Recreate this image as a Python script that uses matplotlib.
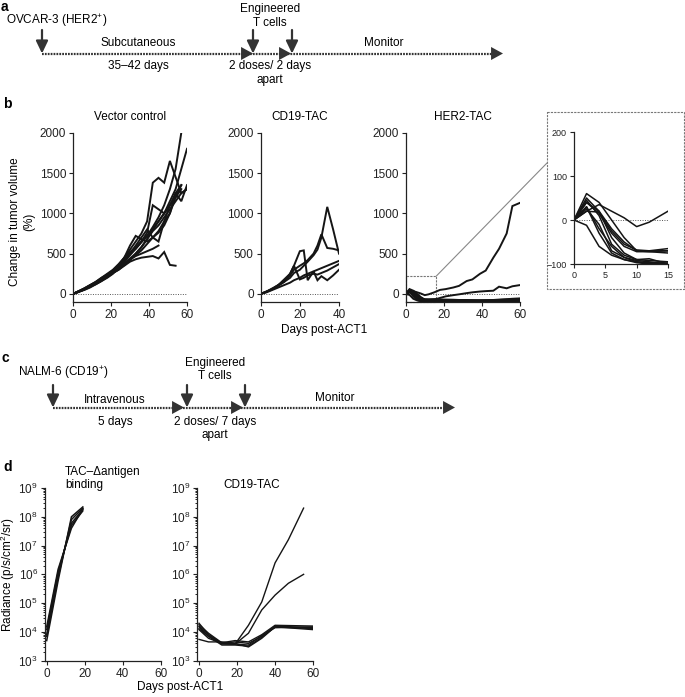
import matplotlib
matplotlib.use("Agg")
import matplotlib.pyplot as plt
from matplotlib.patches import Rectangle, ConnectionPatch

plt.rcParams["font.family"] = ["Liberation Sans", "DejaVu Sans"]
plt.rcParams["mathtext.fontset"] = "custom"
plt.rcParams["mathtext.rm"] = "Liberation Sans"
plt.rcParams["mathtext.it"] = "Liberation Sans:italic"
plt.rcParams["mathtext.bf"] = "Liberation Sans:bold"

# ---- panel b: change in tumour volume (%) ----
vc_days = [0, 3, 6, 9, 12, 15, 18, 21, 24, 27, 30, 33, 36, 39, 42, 45, 48, 51, 54, 57, 60]
vc_curves = [
    [0, 35, 70, 110, 150, 200, 240, 290, 350, 430, 500, 560, 640, 720, 830, 950, 1100, 1300, 1550, 2000],
    [0, 30, 60, 100, 140, 180, 230, 270, 320, 380, 440, 500, 580, 680, 800, 900, 1000, 1150, 1300, 1550, 1800],
    [0, 30, 60, 95, 130, 170, 230, 290, 360, 450, 550, 650, 750, 900, 1380, 1440, 1380, 1650, 1450, 1250, 1300],
    [0, 30, 55, 90, 120, 160, 200, 250, 330, 450, 600, 720, 680, 650, 700, 780, 900, 1100, 1200, 1350],
    [0, 25, 50, 80, 120, 160, 210, 260, 300, 350, 400, 430, 450, 460, 470, 440, 520, 360, 350],
    [0, 30, 65, 105, 140, 180, 240, 280, 330, 380, 430, 470, 500, 530, 560, 600],
    [0, 30, 60, 100, 140, 190, 230, 280, 330, 400, 480, 560, 650, 760, 1100, 1050, 1000, 1100, 1200, 1300],
    [0, 35, 70, 110, 150, 200, 250, 300, 370, 450, 520, 580, 650, 720, 800, 900, 1000, 1100, 1250, 1350],
    [0, 30, 55, 90, 130, 170, 210, 260, 300, 360, 420, 500, 580, 680, 780, 850, 950, 1050, 1150, 1250, 1300],
    [0, 30, 60, 100, 140, 180, 220, 260, 310, 360, 420, 480, 540, 620, 700, 760, 850, 1000, 1250, 1150, 1350],
    [0, 25, 55, 90, 130, 170, 220, 280, 340, 420, 500, 600, 700, 800, 700, 650, 900, 1000, 1200],
]

cd19_days = [0, 3, 6, 9, 12, 15, 17, 20, 22, 24, 27, 29, 31, 34, 37, 40]
cd19_curves = [
    [0, 30, 60, 100, 150, 200, 260, 300, 350, 400, 480, 550, 700, 1080, 800, 500],
    [0, 25, 60, 110, 160, 230, 300, 350, 380, 420, 500, 600, 740, 570, 560, 540],
    [0, 30, 70, 110, 150, 250, 350, 530, 540, 170, 280, 170, 220, 170, 230, 300],
    [0, 20, 50, 80, 110, 140, 170, 200, 230, 250, 280, 300, 320, 350, 380, 410],
    [0, 30, 60, 110, 180, 250, 350, 180, 200, 230, 250, 240, 260, 290, 330, 370],
]

her2_days = [0, 2, 4, 6, 8, 10, 12, 15, 18, 21, 25, 28, 32, 35, 39, 42, 46, 49, 53, 56, 60]
her2_curves = [
    [0, 20, 35, 20, 5, -15, -5, 20, 50, 60, 80, 100, 160, 180, 250, 290, 450, 560, 750, 1090, 1130],
    [0, 40, 20, -20, -50, -70, -70, -70, -50, -30, -15, -5, 10, 20, 30, 35, 40, 90, 70, 95, 110],
    [0, 60, 40, 0, -40, -70, -72, -70, -75, -78, -80, -80, -82, -82, -80, -78, -75, -70, -65, -60, -55],
    [0, 40, 15, -30, -60, -72, -72, -75, -80, -85, -85, -88, -88, -85, -85, -82, -80, -75, -70, -68, -65],
    [0, 30, -20, -60, -85, -92, -95, -100, -100, -99, -98, -98, -100, -99, -100, -98, -95, -95, -90, -90, -88],
    [0, -12, -60, -80, -90, -95, -99, -100, -100, -100, -99, -100, -100, -100, -99, -100, -100, -98, -100, -99, -100],
    [0, 25, -10, -70, -85, -95, -97, -98, -98, -97, -95, -95, -96, -95, -95, -93, -92, -92, -90, -91, -90],
    [0, 45, 10, -55, -80, -90, -92, -95, -95, -96, -97, -97, -97, -95, -95, -95, -94, -93, -93, -92, -92],
    [0, 20, 18, -25, -55, -68, -70, -65, -68, -70, -72, -75, -75, -76, -78, -78, -78, -75, -75, -72, -70],
    [0, 30, -30, -75, -90, -97, -100, -98, -99, -100, -98, -97, -99, -100, -98, -97, -96, -95, -95, -94, -94],
    [0, 50, 20, -40, -75, -90, -88, -100, -96, -95, -94, -96, -95, -93, -92, -93, -90, -90, -88, -87, -85],
]

# ---- panel d: radiance (p/s/cm2/sr) ----
dant_days = [0, 6, 13, 19]
dant_curves = [
    [5e3, 6e5, 1.0e8, 2.2e8],
    [8e3, 1e6, 6e7, 1.8e8],
    [1.2e4, 1.2e6, 5e7, 1.6e8],
    [7e3, 8e5, 8e7, 2.0e8],
    [1.5e4, 1.5e6, 4e7, 1.9e8],
]
cd19d_days_flat = [0, 5, 12, 19, 26, 33, 40, 60]
cd19d_flat = [
    [2.0e4, 8e3, 4.0e3, 4.5e3, 4.0e3, 7e3, 1.6e4, 1.4e4],
    [1.5e4, 7e3, 3.5e3, 3.5e3, 3.2e3, 6.5e3, 1.5e4, 1.2e4],
    [1.2e4, 6e3, 4e3, 3.8e3, 3.5e3, 7.5e3, 1.4e4, 1.5e4],
    [5.5e3, 4.5e3, 4.5e3, 4.0e3, 3.0e3, 6e3, 1.5e4, 1.3e4],
    [1.8e4, 9e3, 4.2e3, 5e3, 4.5e3, 8e3, 1.7e4, 1.6e4],
]
cd19d_days_rise = [0, 5, 12, 19, 26, 33, 40, 47, 55]
cd19d_rise = [
    [1.6e4, 8e3, 3.8e3, 3.8e3, 1.7e4, 1.1e5, 2.5e6, 1.6e7, 2.0e8],
    [1.3e4, 7e3, 4e3, 3.8e3, 9e3, 5.8e4, 1.9e5, 4.9e5, 1.0e6],
]

W, H = 685, 697
DARK = "#333333"
LINE = "#151515"
FS = 8.5


def px_rect(left, top, right, bottom):
    return [left / W, 1 - bottom / H, (right - left) / W, (bottom - top) / H]


def style(ax, size=FS):
    for s in ("top", "right"):
        ax.spines[s].set_visible(False)
    for s in ("left", "bottom"):
        ax.spines[s].set_linewidth(0.9)
        ax.spines[s].set_color("#222222")
    ax.tick_params(labelsize=size, length=3, width=0.8, pad=2, colors="#222222")
    ax.tick_params(which="minor", length=1.8, width=0.6)


def down_arrow(ov, x, y_top, y_tip):
    ov.annotate("", xy=(x, y_tip), xytext=(x, y_top),
                arrowprops=dict(arrowstyle="-|>,head_length=0.75,head_width=0.36",
                                color=DARK, lw=1.6, mutation_scale=10, shrinkA=0, shrinkB=0))


def right_head(ov, x, y):
    ov.annotate("", xy=(x, y), xytext=(x - 20, y),
                arrowprops=dict(arrowstyle="-|>,head_length=0.86,head_width=0.47",
                                color=DARK, lw=0, mutation_scale=10, shrinkA=0, shrinkB=0))


def timeline(ov, y, x0, x_end, heads, downs, top):
    ov.plot([x0, x_end - 8], [y, y], ls=(0, (0.8, 0.5)), lw=1.6, color=DARK)
    for hx in heads + [x_end]:
        right_head(ov, hx, y)
    for dx in downs:
        down_arrow(ov, dx, top, y)


fig = plt.figure(figsize=(W / 100, H / 100), dpi=100)

# overlay in pixel coordinates for schematics and labels
ov = fig.add_axes([0, 0, 1, 1])
ov.set_xlim(0, W)
ov.set_ylim(H, 0)
ov.axis("off")

# ---------- a ----------
ov.text(1, 7, "a", fontsize=10, fontweight="bold", va="center")
ov.text(57, 21, r"OVCAR-3 (HER2$^{+}$)", fontsize=FS, ha="center", va="center")
timeline(ov, 53.5, 42, 503, [253, 291], [42, 253, 292], 30)
ov.text(138, 43, "Subcutaneous", fontsize=FS, ha="center", va="center")
ov.text(138, 66, "35\u201342 days", fontsize=FS, ha="center", va="center")
ov.text(270, 9, "Engineered", fontsize=FS, ha="center", va="center")
ov.text(270, 23, "T cells", fontsize=FS, ha="center", va="center")
ov.text(384, 43, "Monitor", fontsize=FS, ha="center", va="center")
ov.text(270, 66, "2 doses/ 2 days", fontsize=FS, ha="center", va="center")
ov.text(270, 80, "apart", fontsize=FS, ha="center", va="center")

# ---------- b ----------
ov.text(3, 104, "b", fontsize=10, fontweight="bold", va="center")
ov.text(22, 222, "Change in tumor volume\n(%)", fontsize=FS, rotation=90,
        ha="center", va="center", linespacing=1.2)

ax_vc = fig.add_axes(px_rect(73, 132.7, 187, 302))
ax_cd = fig.add_axes(px_rect(260.7, 132.7, 339, 302))
ax_her = fig.add_axes(px_rect(405.7, 132.7, 520, 302))

for ax, days, curves, xmax, title in [
    (ax_vc, vc_days, vc_curves, 60, "Vector control"),
    (ax_cd, cd19_days, cd19_curves, 40, "CD19-TAC"),
    (ax_her, her2_days, her2_curves, 60, "HER2-TAC"),
]:
    for c in curves:
        ax.plot(days[:len(c)], c, color=LINE, lw=1.4, solid_joinstyle="miter")
    ax.axhline(0, color="#555555", lw=0.7, ls=(0, (1, 1.5)), zorder=0)
    ax.set_xlim(0, xmax)
    ax.set_ylim(-100, 2000)
    ax.set_yticks([0, 500, 1000, 1500, 2000])
    ax.set_xticks(range(0, xmax + 1, 20))
    ax.set_title(title, fontsize=FS, pad=9)
    ax.patch.set_alpha(0)
    style(ax)

ov.text(324, 330, "Days post-ACT1", fontsize=FS, ha="center", va="center")

# zoom box on HER2 panel
ax_her.add_patch(Rectangle((0, -100), 16, 320, fill=False, ls=(0, (2, 1)),
                           lw=0.8, ec="#777777", clip_on=False))

# inset
ov.add_patch(Rectangle((547, 112), 137, 177, fill=False, ls=(0, (2, 1)),
                       lw=0.8, ec="#777777"))
con = ConnectionPatch(xyA=(16, 220), coordsA=ax_her.transData,
                      xyB=(547, 163), coordsB=ov.transData,
                      color="#888888", lw=0.8)
fig.add_artist(con)

ax_in = fig.add_axes(px_rect(574, 132, 668, 264))
for c in her2_curves:
    ax_in.plot(her2_days[:len(c)], c, color=LINE, lw=1.1)
ax_in.axhline(0, color="#555555", lw=0.7, ls=(0, (1, 1.5)), zorder=0)
ax_in.set_xlim(0, 15)
ax_in.set_ylim(-100, 200)
ax_in.set_xticks([0, 5, 10, 15])
ax_in.set_yticks([-100, 0, 100, 200])
ax_in.patch.set_alpha(0)
style(ax_in, size=6.5)

# ---------- c ----------
ov.text(2, 358, "c", fontsize=10, fontweight="bold", va="center")
ov.text(63, 373, r"NALM-6 (CD19$^{+}$)", fontsize=FS, ha="center", va="center")
timeline(ov, 407.5, 53, 455, [184, 243], [53, 187, 245], 385)
ov.text(115, 400, "Intravenous", fontsize=FS, ha="center", va="center")
ov.text(115, 422, "5 days", fontsize=FS, ha="center", va="center")
ov.text(215, 363, "Engineered", fontsize=FS, ha="center", va="center")
ov.text(215, 376, "T cells", fontsize=FS, ha="center", va="center")
ov.text(215, 422, "2 doses/ 7 days", fontsize=FS, ha="center", va="center")
ov.text(215, 435, "apart", fontsize=FS, ha="center", va="center")
ov.text(335, 398, "Monitor", fontsize=FS, ha="center", va="center")

# ---------- d ----------
ov.text(3, 467, "d", fontsize=10, fontweight="bold", va="center")
ov.text(8, 575, "Radiance (p/s/cm$^{2}$/sr)", fontsize=FS, rotation=90,
        ha="center", va="center")

ax_d1 = fig.add_axes(px_rect(44.8, 488, 160.8, 660.7))
ax_d2 = fig.add_axes(px_rect(197.1, 488, 313.1, 660.7))

for c in dant_curves:
    ax_d1.plot(dant_days, c, color=LINE, lw=1.1)
for c in cd19d_flat:
    ax_d2.plot(cd19d_days_flat, c, color=LINE, lw=1.0)
for c in cd19d_rise:
    ax_d2.plot(cd19d_days_rise, c, color=LINE, lw=1.0)

for ax in (ax_d1, ax_d2):
    ax.set_yscale("log")
    ax.set_ylim(1e3, 1e9)
    ax.set_xlim(-1, 60)
    ax.set_xticks([0, 20, 40, 60])
    ax.patch.set_alpha(0)
    style(ax)

ov.text(65, 472, "TAC\u2013\u0394antigen", fontsize=FS, ha="left", va="center")
ov.text(65, 485, "binding", fontsize=FS, ha="left", va="center")
ov.text(252, 485, "CD19-TAC", fontsize=FS, ha="center", va="center")
ov.text(180, 687, "Days post-ACT1", fontsize=FS, ha="center", va="center")

fig.savefig("out.png", dpi=100)
